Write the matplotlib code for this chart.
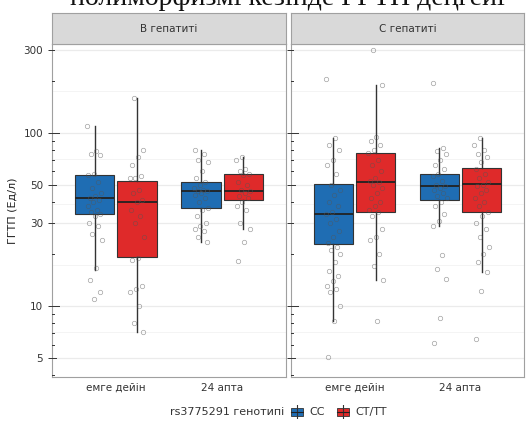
import numpy as np
import matplotlib.pyplot as plt

# facets, time points and genotype groups
panels = ["В гепатиті", "С гепатиті"]
times = ["емге дейін", "24 апта"]
genotypes = ["CC", "CT/TT"]
colors = {"CC": "#1f6db3", "CT/TT": "#df2a2a"}

# box statistics per panel -> time -> genotype: (whislo, q1, med, q3, whishi)
box_stats = {
    "В гепатиті": {
        "емге дейін": {"CC": (16.2, 34.2, 41.8, 57.4, 110), "CT/TT": (7.1, 19.2, 40.1, 52.5, 158)},
        "24 апта": {"CC": (23.3, 36.6, 46.4, 52.0, 79), "CT/TT": (28, 40.7, 46.4, 58.0, 72)},
    },
    "С гепатиті": {
        "емге дейін": {"CC": (8.2, 22.7, 34.2, 50.5, 93), "CT/TT": (14.2, 34.8, 52.3, 76.4, 189)},
        "24 апта": {"CC": (29, 41.2, 49.1, 58.1, 81.7), "CT/TT": (15.8, 34.8, 50.3, 62.7, 93)},
    },
}

# individual measurements (ГГТП, Ед/л)
b_pre_cc = [110, 78, 75, 74, 58, 57, 52, 48, 45, 43, 42, 41, 40, 38, 36, 35, 34, 33,
            30, 29, 26, 24, 16.5, 14.1, 12.1, 11.0]
b_pre_ct = [158, 80, 72, 65, 56, 55, 55, 47, 45, 41, 40, 36, 33, 30, 25, 19, 18.5,
            13, 12.5, 12, 10, 8, 7.1]
b_24_cc = [79, 75, 70, 68, 60, 55, 52, 50, 48, 47, 46, 46, 45, 44, 42, 40, 37, 36,
           33, 30, 29, 28, 27, 25, 23.3]
b_24_ct = [72, 70, 62, 60, 58, 57, 52, 50, 47, 46, 45, 43, 42, 40, 38, 36, 30, 28,
           23.3, 18.2]
c_pre_cc = [204, 93, 85, 80, 70, 65, 58, 50, 47, 44, 40, 38, 35, 34, 32, 30, 27, 25,
            23, 22, 21, 20, 18, 16, 15, 14, 13, 12.5, 12, 10, 8.2, 5.1]
c_pre_ct = [300, 189, 95, 90, 85, 80, 76, 70, 65, 60, 55, 53, 52, 50, 48, 45, 42, 40,
            38, 36, 35, 33, 28, 25, 24, 20, 17, 14.2, 8.2]
c_24_cc = [194, 81.7, 78, 75, 70, 65, 62, 58, 56, 53, 50, 49, 48, 47, 45, 43, 42, 40,
           38, 34, 31, 29, 19.6, 16.3, 14.3, 8.5, 6.1]
c_24_ct = [93, 85, 80, 75, 72, 68, 62, 58, 55, 52, 50, 49, 47, 45, 42, 40, 38, 35, 33,
           30, 28, 25, 22, 20, 18, 15.8, 12.3, 6.5]

points = {
    "В гепатиті": {"емге дейін": {"CC": b_pre_cc, "CT/TT": b_pre_ct},
                   "24 апта": {"CC": b_24_cc, "CT/TT": b_24_ct}},
    "С гепатиті": {"емге дейін": {"CC": c_pre_cc, "CT/TT": c_pre_ct},
                   "24 апта": {"CC": c_24_cc, "CT/TT": c_24_ct}},
}

y_breaks = [5, 10, 30, 50, 100, 300]
y_minor = [np.sqrt(5 * 10), np.sqrt(10 * 30), np.sqrt(30 * 50), np.sqrt(50 * 100), np.sqrt(100 * 300)]

W, H = 529, 424
fig = plt.figure(figsize=(W / 100, H / 100), dpi=100)


def fx(px):
    return px / W


def fy(py):
    return 1 - py / H


dodge = 0.2
box_w = 0.37
gold = 0.6180339887

panel_x = [(52, 286), (291, 524)]
for pi, panel in enumerate(panels):
    x0, x1 = panel_x[pi]
    ax = fig.add_axes([fx(x0), fy(377), fx(x1 - x0), fy(44) - fy(377)])
    ax.set_yscale("log")
    ax.set_ylim(3.9, 325)
    ax.set_xlim(0.4, 2.6)

    for v in y_breaks:
        ax.axhline(v, color="#ebebeb", lw=0.9, zorder=0)
    for v in y_minor:
        ax.axhline(v, color="#f3f3f3", lw=0.6, zorder=0)

    for ti, t in enumerate(times):
        for gi, g in enumerate(genotypes):
            xc = ti + 1 + (-dodge if gi == 0 else dodge)
            lo, q1, med, q3, hi = box_stats[panel][t][g]
            ax.bxp([{"whislo": lo, "q1": q1, "med": med, "q3": q3, "whishi": hi, "fliers": []}],
                   positions=[xc], widths=box_w, showfliers=False, showcaps=False,
                   patch_artist=True,
                   boxprops=dict(facecolor=colors[g], edgecolor="#333333", lw=0.8),
                   medianprops=dict(color="#222222", lw=1.3),
                   whiskerprops=dict(color="#333333", lw=1.0),
                   manage_ticks=False, zorder=2)
            vals = np.array(points[panel][t][g])
            offs = ((np.arange(len(vals)) * gold + 0.3 * gi + 0.1 * ti) % 1 - 0.5) * 0.14
            ax.plot(xc + offs, vals, "o", mfc="none", mec="#555555", mew=0.5, ms=3.2,
                    alpha=0.55, zorder=3)

    # log ticks drawn on the inside of the left edge
    trans = ax.get_yaxis_transform()
    for dec in [1, 10, 100]:
        for m in range(1, 10):
            v = m * dec
            if v < 3.9 or v > 325:
                continue
            L = 0.028 if m == 1 else (0.018 if m == 5 else 0.009)
            ax.plot([0, L], [v, v], color="#333333", lw=0.7, transform=trans,
                    clip_on=False, zorder=4)

    ax.set_xticks([1, 2])
    ax.set_xticklabels(times, fontsize=7.5, color="#333333")
    ax.set_yticks(y_breaks)
    ax.yaxis.set_minor_locator(plt.NullLocator())
    if pi == 0:
        ax.set_yticklabels([str(v) for v in y_breaks], fontsize=7.5, color="#333333")
        ax.set_ylabel("ГГТП (Ед/л)", fontsize=8, color="#222222", labelpad=4)
    else:
        ax.set_yticklabels([])
        ax.tick_params(axis="y", length=0)
    ax.tick_params(axis="x", length=0, pad=4)
    ax.tick_params(axis="y", which="major", length=3, color="#333333", width=0.7)
    for s in ax.spines.values():
        s.set_color("#a0a0a0")
        s.set_linewidth(0.8)

    # facet strip
    sax = fig.add_axes([fx(x0), fy(44), fx(x1 - x0), fy(13) - fy(44)])
    sax.set_facecolor("#d9d9d9")
    sax.set_xticks([])
    sax.set_yticks([])
    for s in sax.spines.values():
        s.set_color("#a0a0a0")
        s.set_linewidth(0.8)
    sax.text(0.5, 0.5, panel, ha="center", va="center", fontsize=7.5, color="#333333",
             transform=sax.transAxes)

# legend at the bottom
ly = fy(412)
fig.text(fx(170), ly, "rs3775291 генотипі", ha="left", va="center", fontsize=8, color="#333333")
kx = [290, 336]
for g, k in zip(genotypes, kx):
    kax = fig.add_axes([fx(k), fy(419), fx(14), fy(405) - fy(419)])
    kax.set_xlim(0, 1)
    kax.set_ylim(0, 1)
    kax.axis("off")
    kax.plot([0.5, 0.5], [0.0, 1.0], color="#333333", lw=0.8)
    kax.add_patch(plt.Rectangle((0.08, 0.2), 0.84, 0.6, facecolor=colors[g],
                                edgecolor="#333333", lw=0.6))
    kax.plot([0.08, 0.92], [0.5, 0.5], color="#222222", lw=0.8)
    fig.text(fx(k + 19), ly, g, ha="left", va="center", fontsize=8, color="#333333")

# heading text running off the top edge
fig.text(fx(70), fy(5), "полиморфизмі кезінде ГГТП деңгейі", ha="left", va="baseline",
         fontsize=20, family="Liberation Serif", color="#111111")

fig.savefig("out.png", dpi=100)
